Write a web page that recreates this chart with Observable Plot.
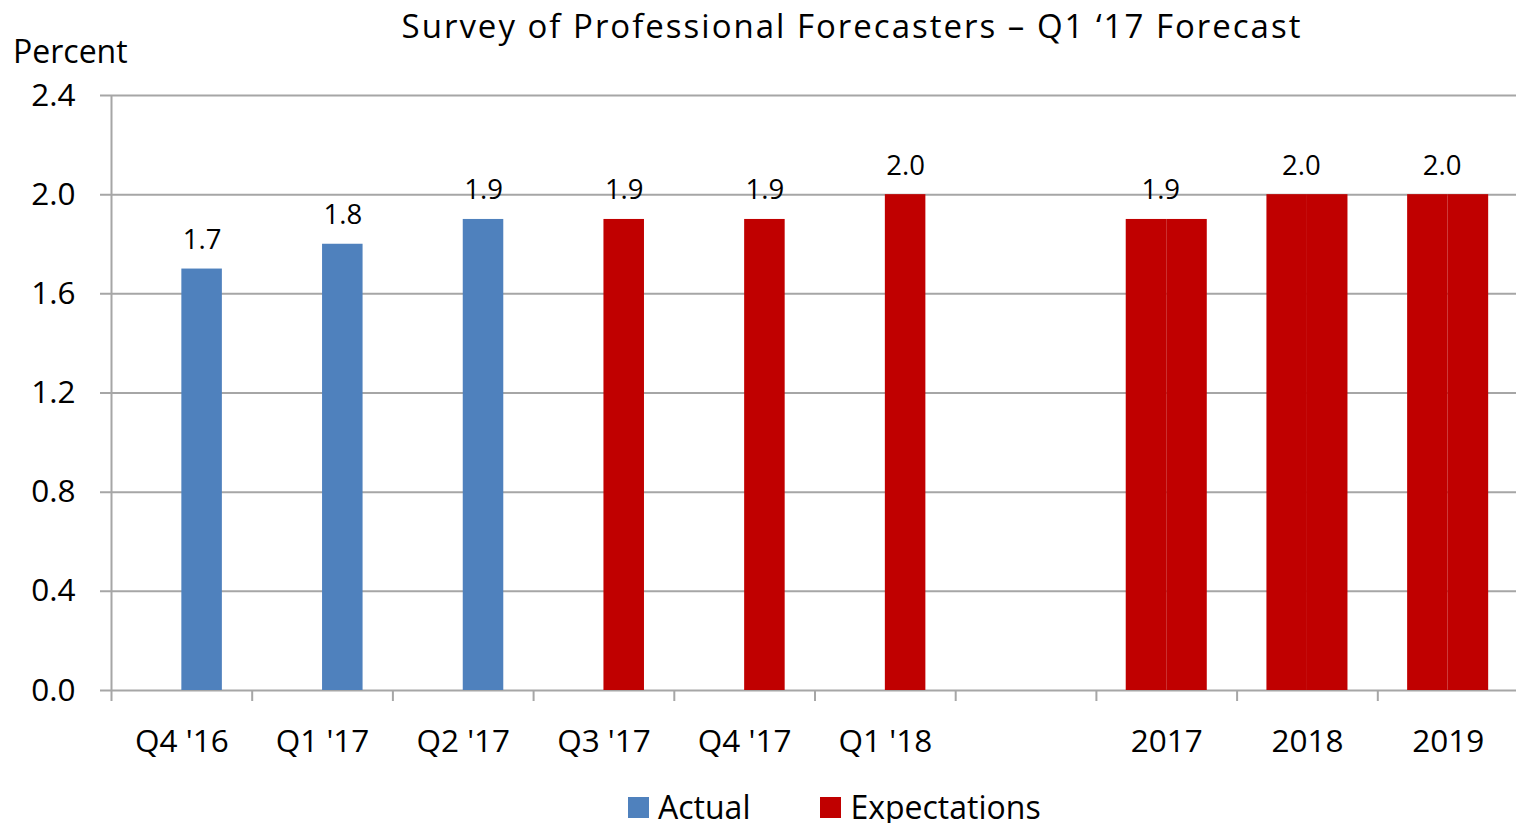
<!DOCTYPE html>
<html>
<head>
<meta charset="utf-8">
<script src="https://cdn.jsdelivr.net/npm/d3@7"></script>
<script src="https://cdn.jsdelivr.net/npm/@observablehq/plot@0.6"></script>
<style>
  html, body { margin: 0; padding: 0; background: #fff; }
  #wrap { position: relative; width: 1516px; height: 823px; overflow: hidden; font-family: "Open Sans", sans-serif; color: #000; }
  #title { position: absolute; left: 352px; width: 1000px; top: 9px; text-align: center; font-size: 33px; letter-spacing: 2px; line-height: 1; white-space: nowrap; }
  #ylabel { position: absolute; left: 13px; top: 35px; font-size: 32px; line-height: 1; }
  #legend { position: absolute; left: 628px; top: 791px; display: flex; gap: 70px; font-size: 32px; line-height: 1; white-space: nowrap; }
  #legend .item { display: flex; align-items: center; gap: 9px; }
  #legend .sw { width: 21px; height: 21px; display: inline-block; }
  #chart { position: absolute; left: 0; top: 0; }
</style>
</head>
<body>
<div id="wrap">
  <div id="chart"></div>
  <div id="title"></div>
  <div id="ylabel"></div>
  <div id="legend"></div>
</div>
<script>
// ---- data ----
const categories = ["Q4 '16", "Q1 '17", "Q2 '17", "Q3 '17", "Q4 '17", "Q1 '18", " ", "2017", "2018", "2019"];
const seriesOf   = ["Actual", "Actual", "Actual", "Expectations", "Expectations", "Expectations", null, "Expectations", "Expectations", "Expectations"];
const values     = [1.7, 1.8, 1.9, 1.9, 1.9, 2.0, null, 1.9, 2.0, 2.0];
const annualCategories = ["2017", "2018", "2019"];
const seriesNames  = ["Actual", "Expectations"];
const seriesColors = ["#4F81BD", "#C00000"];
const yTicks = [0, 0.4, 0.8, 1.2, 1.6, 2.0, 2.4];
const titleText = "Survey of Professional Forecasters – Q1 ‘17 Forecast";
const yLabelText = "Percent";

// ---- build ----
const rows = categories.map((c, i) => ({
  category: c, series: seriesOf[i], value: values[i], annual: annualCategories.includes(c)
})).filter(d => d.value != null);

const W = 1516, H = 823, mL = 111, mR = -2, mT = 95, mB = 133;
const bw = (W - mL - mR) / categories.length;
const half = bw / 2;
const barW = bw * 0.288;
const gridColor = "#a6a6a6";

const chart = Plot.plot({
  width: W, height: H,
  marginLeft: mL, marginRight: mR, marginTop: mT, marginBottom: mB,
  style: { fontFamily: "'Open Sans', sans-serif", fontSize: "31.5px", color: "#000", background: "transparent", overflow: "visible" },
  x: { domain: categories, padding: 0, round: false, tickSize: 0, tickPadding: 39, label: null },
  y: { domain: [0, 2.4], ticks: yTicks, tickFormat: d3.format(".1f"), tickSize: 0, tickPadding: 36, label: null },
  color: { domain: seriesNames, range: seriesColors },
  marks: [
    Plot.ruleY(yTicks, { stroke: gridColor, strokeWidth: 2, insetLeft: -11 }),
    Plot.ruleX(categories.slice(1), { x: d => d, y1: 0, y2: 0, dx: -half, insetBottom: -11, stroke: gridColor, strokeWidth: 2 }),
    Plot.ruleX([categories[0]], { x: d => d, dx: -half, insetBottom: -11, stroke: gridColor, strokeWidth: 2 }),
    Plot.barY(rows, { x: "category", y: "value", fill: "series", insetLeft: half, insetRight: bw - half - barW }),
    Plot.barY(rows.filter(d => d.annual), { x: "category", y: "value", fill: "series", insetLeft: bw - half - barW, insetRight: half }),
    Plot.text(rows.filter(d => !d.annual), { x: "category", y: "value", text: d => d.value.toFixed(1), dx: barW / 2, dy: -20, lineAnchor: "bottom", fontSize: 27.5, fill: "#000" }),
    Plot.text(rows.filter(d => d.annual), { x: "category", y: "value", text: d => d.value.toFixed(1), dx: -6, dy: -20, lineAnchor: "bottom", fontSize: 27.5, fill: "#000" })
  ]
});
document.getElementById("chart").appendChild(chart);
document.getElementById("title").textContent = titleText;
document.getElementById("ylabel").textContent = yLabelText;

const legend = document.getElementById("legend");
seriesNames.forEach((name, i) => {
  const item = document.createElement("div");
  item.className = "item";
  const sw = document.createElement("span");
  sw.className = "sw";
  sw.style.background = seriesColors[i];
  const label = document.createElement("span");
  label.textContent = name;
  item.appendChild(sw);
  item.appendChild(label);
  legend.appendChild(item);
});
</script>
</body>
</html>
